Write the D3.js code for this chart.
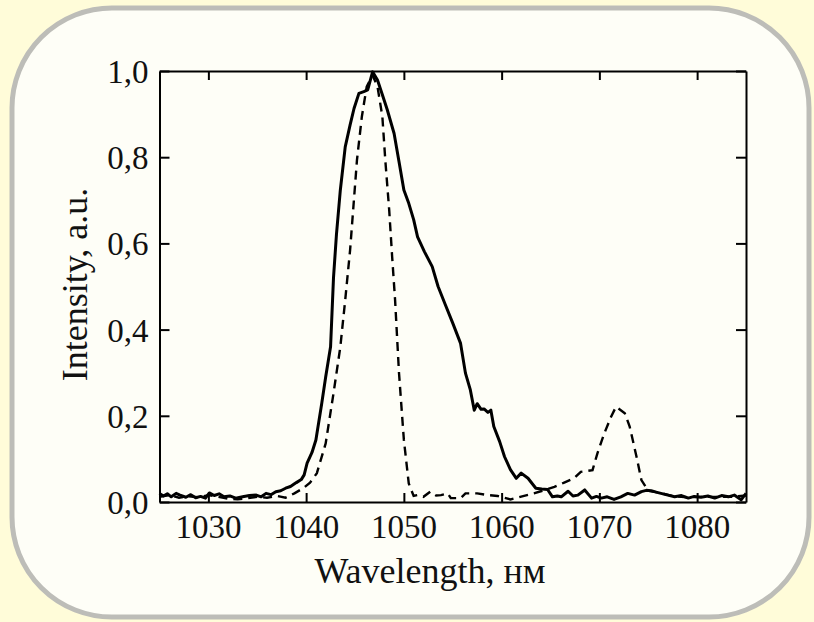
<!DOCTYPE html>
<html>
<head>
<meta charset="utf-8">
<script src="https://cdn.jsdelivr.net/npm/d3@7"></script>
<style>
  html, body { margin: 0; padding: 0; background: #fffcd9; }
  svg { display: block; }
  text { font-family: "Liberation Serif", "Times New Roman", serif; fill: #111; }
</style>
</head>
<body>
<script>
// spectra (wavelength in nm, normalised intensity)
var solidWl = [1025, 1025.4, 1025.8, 1026.2, 1026.7, 1027.1, 1027.7, 1028.2, 1028.7, 1029.2, 1029.7, 1030.1,
    1030.6, 1031.1, 1031.6, 1032.2, 1032.8, 1033.5, 1034.2, 1034.9, 1035.4, 1035.9, 1036.4, 1036.9,
    1037.4, 1037.9, 1038.4, 1039.0, 1039.5, 1039.8, 1040.1, 1040.6, 1041.0, 1041.6, 1042.0, 1042.5,
    1042.8, 1043.1, 1043.5, 1044.0, 1044.5, 1044.9, 1045.4, 1045.9, 1046.3, 1046.8, 1047.3, 1047.8,
    1048.3, 1049.0, 1049.5, 1050.0, 1050.5, 1051.0, 1051.4, 1052.1, 1052.9, 1053.5, 1054.2, 1055.0,
    1055.8, 1056.3, 1056.8, 1057.2, 1057.5, 1057.9, 1058.2, 1058.6, 1058.9, 1059.2, 1059.8, 1060.3,
    1060.9, 1061.5, 1062.0, 1062.7, 1063.5, 1064.1, 1064.7, 1065.2, 1065.7, 1066.1, 1066.8, 1067.3,
    1067.8, 1068.5, 1069.2, 1069.7, 1070.2, 1070.8, 1071.5, 1072.2, 1072.9, 1073.6, 1074.3, 1074.8,
    1075.3, 1075.8, 1076.3, 1077.0, 1077.7, 1078.4, 1079.1, 1079.7, 1080.4, 1081.1, 1081.8, 1082.5,
    1083.2, 1083.8, 1084.5, 1085];
var solidInt = [0.02, 0.014, 0.019, 0.012, 0.02, 0.016, 0.011, 0.017, 0.01, 0.013, 0.009, 0.021,
    0.015, 0.019, 0.012, 0.014, 0.009, 0.012, 0.015, 0.016, 0.012, 0.02, 0.017, 0.024,
    0.026, 0.032, 0.036, 0.045, 0.052, 0.063, 0.09, 0.115, 0.144, 0.229, 0.29, 0.36,
    0.52, 0.62, 0.724, 0.824, 0.875, 0.913, 0.948, 0.952, 0.956, 0.998, 0.979, 0.945,
    0.91, 0.855, 0.79, 0.724, 0.693, 0.655, 0.615, 0.581, 0.546, 0.5, 0.46, 0.415,
    0.368, 0.299, 0.26, 0.213, 0.228, 0.215, 0.216, 0.208, 0.213, 0.175, 0.14, 0.105,
    0.075, 0.055, 0.067, 0.055, 0.032, 0.03, 0.029, 0.012, 0.014, 0.012, 0.025, 0.014,
    0.016, 0.028, 0.009, 0.013, 0.009, 0.012, 0.006, 0.012, 0.02, 0.016, 0.024, 0.027,
    0.026, 0.023, 0.02, 0.016, 0.012, 0.015, 0.009, 0.013, 0.011, 0.014, 0.009, 0.015,
    0.012, 0.016, 0.005, 0.02];

var dashWl = [1025, 1026, 1027, 1028, 1029, 1030, 1031, 1032, 1033, 1034, 1035, 1036, 1037, 1037.9,
    1038.8, 1039.7, 1040.4, 1041.1, 1042.0, 1042.8, 1043.5, 1044.0, 1044.5, 1045.2, 1045.7, 1046.2,
    1046.8, 1047.3, 1047.8, 1048.1, 1048.5, 1048.8, 1049.1, 1049.5, 1050.0, 1050.5, 1051.0, 1051.4,
    1052.0, 1052.7, 1053.3, 1053.8, 1054.5, 1054.8, 1055.8, 1056.3, 1057.5, 1058.6, 1059.6, 1060.9,
    1061.9, 1063.3, 1064.3, 1065.4, 1066.4, 1067.4, 1068.1, 1069.3, 1069.8, 1070.5, 1071.2, 1071.7,
    1072.6, 1073.1, 1073.8, 1074.3, 1075.0, 1076.0, 1077.5, 1079.0, 1080.5, 1082.0, 1083.5, 1085];
var dashInt = [0.012, 0.016, 0.01, 0.013, 0.011, 0.016, 0.012, 0.008, 0.006, 0.009, 0.012, 0.01, 0.014, 0.01,
    0.02, 0.032, 0.045, 0.067, 0.136, 0.252, 0.36, 0.469, 0.585, 0.793, 0.894, 0.964,
    0.99, 0.964, 0.894, 0.793, 0.677, 0.569, 0.469, 0.3, 0.144, 0.043, 0.014, 0.016,
    0.012, 0.024, 0.015, 0.016, 0.02, 0.009, 0.009, 0.02, 0.02, 0.016, 0.014, 0.006,
    0.012, 0.02, 0.027, 0.035, 0.045, 0.055, 0.07, 0.074, 0.113, 0.159, 0.198, 0.221,
    0.206, 0.175, 0.105, 0.051, 0.026, 0.022, 0.014, 0.011, 0.012, 0.012, 0.012, 0.015];

var xTicks = [1030, 1040, 1050, 1060, 1070, 1080];
var yTicks = [0, 0.2, 0.4, 0.6, 0.8, 1.0];
var yTickLabels = ["0,0", "0,2", "0,4", "0,6", "0,8", "1,0"];

var W = 814, H = 622;
var margin = {top: 71, right: 68, bottom: 120, left: 159.5},
    width = W - margin.left - margin.right,
    height = H - margin.top - margin.bottom;

var svg = d3.select("body").append("svg")
    .attr("width", W)
    .attr("height", H);

// rounded panel
svg.append("rect")
    .attr("x", 12).attr("y", 8)
    .attr("width", 797).attr("height", 609)
    .attr("rx", 100).attr("ry", 100)
    .style("fill", "#fefef7")
    .style("stroke", "#bdbdb8")
    .style("stroke-width", 5);

var g = svg.append("g")
    .attr("transform", "translate(" + margin.left + "," + margin.top + ")");

var x = d3.scaleLinear().domain([1025, 1085]).range([0, width]);
var y = d3.scaleLinear().domain([0, 1]).range([height, 0]);

// frame + inward ticks on all sides
function styleAxis(sel) {
    sel.select(".domain").style("stroke", "#000").style("stroke-width", 2);
    sel.selectAll(".tick line").style("stroke", "#000").style("stroke-width", 2);
}

g.append("g")
    .attr("transform", "translate(0," + height + ")")
    .call(d3.axisBottom(x).tickValues(xTicks).tickSizeInner(-9).tickSizeOuter(0).tickFormat(""))
    .call(styleAxis);
g.append("g")
    .call(d3.axisTop(x).tickValues(xTicks).tickSizeInner(-9).tickSizeOuter(0).tickFormat(""))
    .call(styleAxis);
g.append("g")
    .call(d3.axisLeft(y).tickValues(yTicks).tickSizeInner(-10).tickSizeOuter(0).tickFormat(""))
    .call(styleAxis);
g.append("g")
    .attr("transform", "translate(" + width + ",0)")
    .call(d3.axisRight(y).tickValues(yTicks).tickSizeInner(-10).tickSizeOuter(0).tickFormat(""))
    .call(styleAxis);

// tick labels
g.selectAll(".xlab")
    .data(xTicks)
    .enter().append("text")
    .attr("class", "xlab")
    .attr("x", function(d) { return x(d); })
    .attr("y", height + 36)
    .style("text-anchor", "middle")
    .style("font-size", "33px")
    .text(function(d) { return d; });

g.selectAll(".ylab")
    .data(yTicks)
    .enter().append("text")
    .attr("class", "ylab")
    .attr("x", -11)
    .attr("y", function(d) { return y(d) + 12; })
    .style("text-anchor", "end")
    .style("font-size", "33px")
    .text(function(d, i) { return yTickLabels[i]; });

// axis titles
svg.append("text")
    .attr("x", 430)
    .attr("y", 583)
    .style("text-anchor", "middle")
    .style("font-size", "36px")
    .text("Wavelength, нм");

svg.append("text")
    .attr("transform", "translate(87," + (margin.top + height / 2 - 2) + ") rotate(-90)")
    .style("text-anchor", "middle")
    .style("font-size", "36px")
    .text("Intensity, a.u.");

// spectra
var line = d3.line()
    .x(function(d) { return x(d[0]); })
    .y(function(d) { return y(d[1]); });

var dashData = dashWl.map(function(w, i) { return [w, dashInt[i]]; });
var solidData = solidWl.map(function(w, i) { return [w, solidInt[i]]; });

g.append("path")
    .datum(dashData)
    .attr("d", line)
    .style("fill", "none")
    .style("stroke", "#000")
    .style("stroke-width", 2.4)
    .style("stroke-dasharray", "9,6");

g.append("path")
    .datum(solidData)
    .attr("d", line)
    .style("fill", "none")
    .style("stroke", "#000")
    .style("stroke-width", 3)
    .style("stroke-linejoin", "round");
</script>
</body>
</html>
